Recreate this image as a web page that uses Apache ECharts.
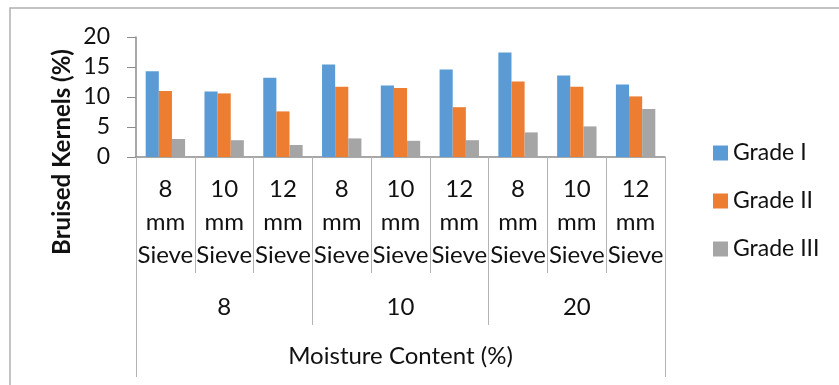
<!DOCTYPE html>
<html>
<head>
<meta charset="utf-8">
<script src="https://cdn.jsdelivr.net/npm/echarts@6/dist/echarts.min.js"></script>
<style>
  html, body { margin: 0; padding: 0; background: #fff; }
  #chart { width: 839px; height: 385px; }
</style>
</head>
<body>
<div id="chart"></div>
<script>
// sieve sizes inside each moisture group
const sieves = [
  '8\nmm\nSieve', '10\nmm\nSieve', '12\nmm\nSieve',
  '8\nmm\nSieve', '10\nmm\nSieve', '12\nmm\nSieve',
  '8\nmm\nSieve', '10\nmm\nSieve', '12\nmm\nSieve'
]
const moistureGroups = ['8', '10', '20']
const gradeI = [14.3, 10.9, 13.2, 15.4, 11.9, 14.6, 17.4, 13.6, 12.1]
const gradeII = [11.0, 10.6, 7.6, 11.7, 11.5, 8.3, 12.6, 11.7, 10.1]
const gradeIII = [3.0, 2.8, 2.0, 3.1, 2.7, 2.8, 4.1, 5.1, 8.0]
const yTicks = [0, 5, 10, 15, 20]

const font = 'Lato'
const chart = echarts.init(document.getElementById('chart'))

const options = {
  animation: false,
  textStyle: { fontFamily: font },
  grid: { left: 136, right: 174, top: 37, height: 120, containLabel: false },
  legend: {
    orient: 'vertical',
    left: 708,
    top: 133,
    itemWidth: 15,
    itemHeight: 15,
    itemGap: 18,
    icon: 'rect',
    textStyle: { fontFamily: font, fontSize: 23, color: '#111', lineHeight: 30, padding: [0, 0, 0, 0] },
    data: ['Grade I', 'Grade II', 'Grade III']
  },
  xAxis: [
    {
      type: 'category',
      data: sieves,
      boundaryGap: true,
      axisLine: { lineStyle: { color: '#8c8c8c', width: 1.5 } },
      axisTick: { show: true, length: 116, interval: 0, lineStyle: { color: '#b3b3b3' } },
      axisLabel: { interval: 0, fontSize: 24, lineHeight: 33, color: '#111', margin: 16, fontFamily: font }
    },
    {
      type: 'category',
      data: moistureGroups,
      position: 'bottom',
      boundaryGap: true,
      axisLine: { show: false },
      axisTick: { show: true, length: 168, interval: 0, lineStyle: { color: '#b3b3b3' } },
      axisLabel: { interval: 0, fontSize: 24, color: '#111', margin: 138, fontFamily: font }
    },
    {
      type: 'category',
      data: ['Moisture Content (%)'],
      position: 'bottom',
      boundaryGap: true,
      axisLine: { show: false },
      axisTick: { show: true, length: 220, interval: 0, lineStyle: { color: '#b3b3b3' } },
      axisLabel: { interval: 0, fontSize: 24, color: '#111', margin: 187, fontFamily: font }
    }
  ],
  yAxis: {
    type: 'value',
    min: yTicks[0],
    max: yTicks[yTicks.length - 1],
    interval: 5,
    splitLine: { show: false },
    axisLine: { show: true, lineStyle: { color: '#8c8c8c', width: 1.5 } },
    axisTick: { show: true, length: 9, lineStyle: { color: '#8c8c8c' } },
    axisLabel: { fontSize: 23, color: '#111', margin: 26, fontFamily: font }
  },
  graphic: [
    {
      type: 'rect',
      shape: { x: 10, y: 8, width: 900, height: 500 },
      style: { fill: 'none', stroke: '#b0b0b0', lineWidth: 1.5 },
      silent: true
    },
    {
      type: 'text',
      x: 62,
      y: 152,
      rotation: Math.PI / 2,
      style: {
        text: 'Bruised Kernels (%)',
        fontFamily: font,
        fontSize: 24,
        fontWeight: 'bold',
        fill: '#111',
        textAlign: 'center',
        textVerticalAlign: 'middle'
      }
    }
  ],
  series: [
    {
      name: 'Grade I',
      type: 'bar',
      barGap: '0%',
      barCategoryGap: '33%',
      itemStyle: { color: '#5B9BD5' },
      data: gradeI
    },
    {
      name: 'Grade II',
      type: 'bar',
      itemStyle: { color: '#ED7D31' },
      data: gradeII
    },
    {
      name: 'Grade III',
      type: 'bar',
      itemStyle: { color: '#A5A5A5' },
      data: gradeIII
    }
  ]
}
chart.setOption(options)
</script>
</body>
</html>
